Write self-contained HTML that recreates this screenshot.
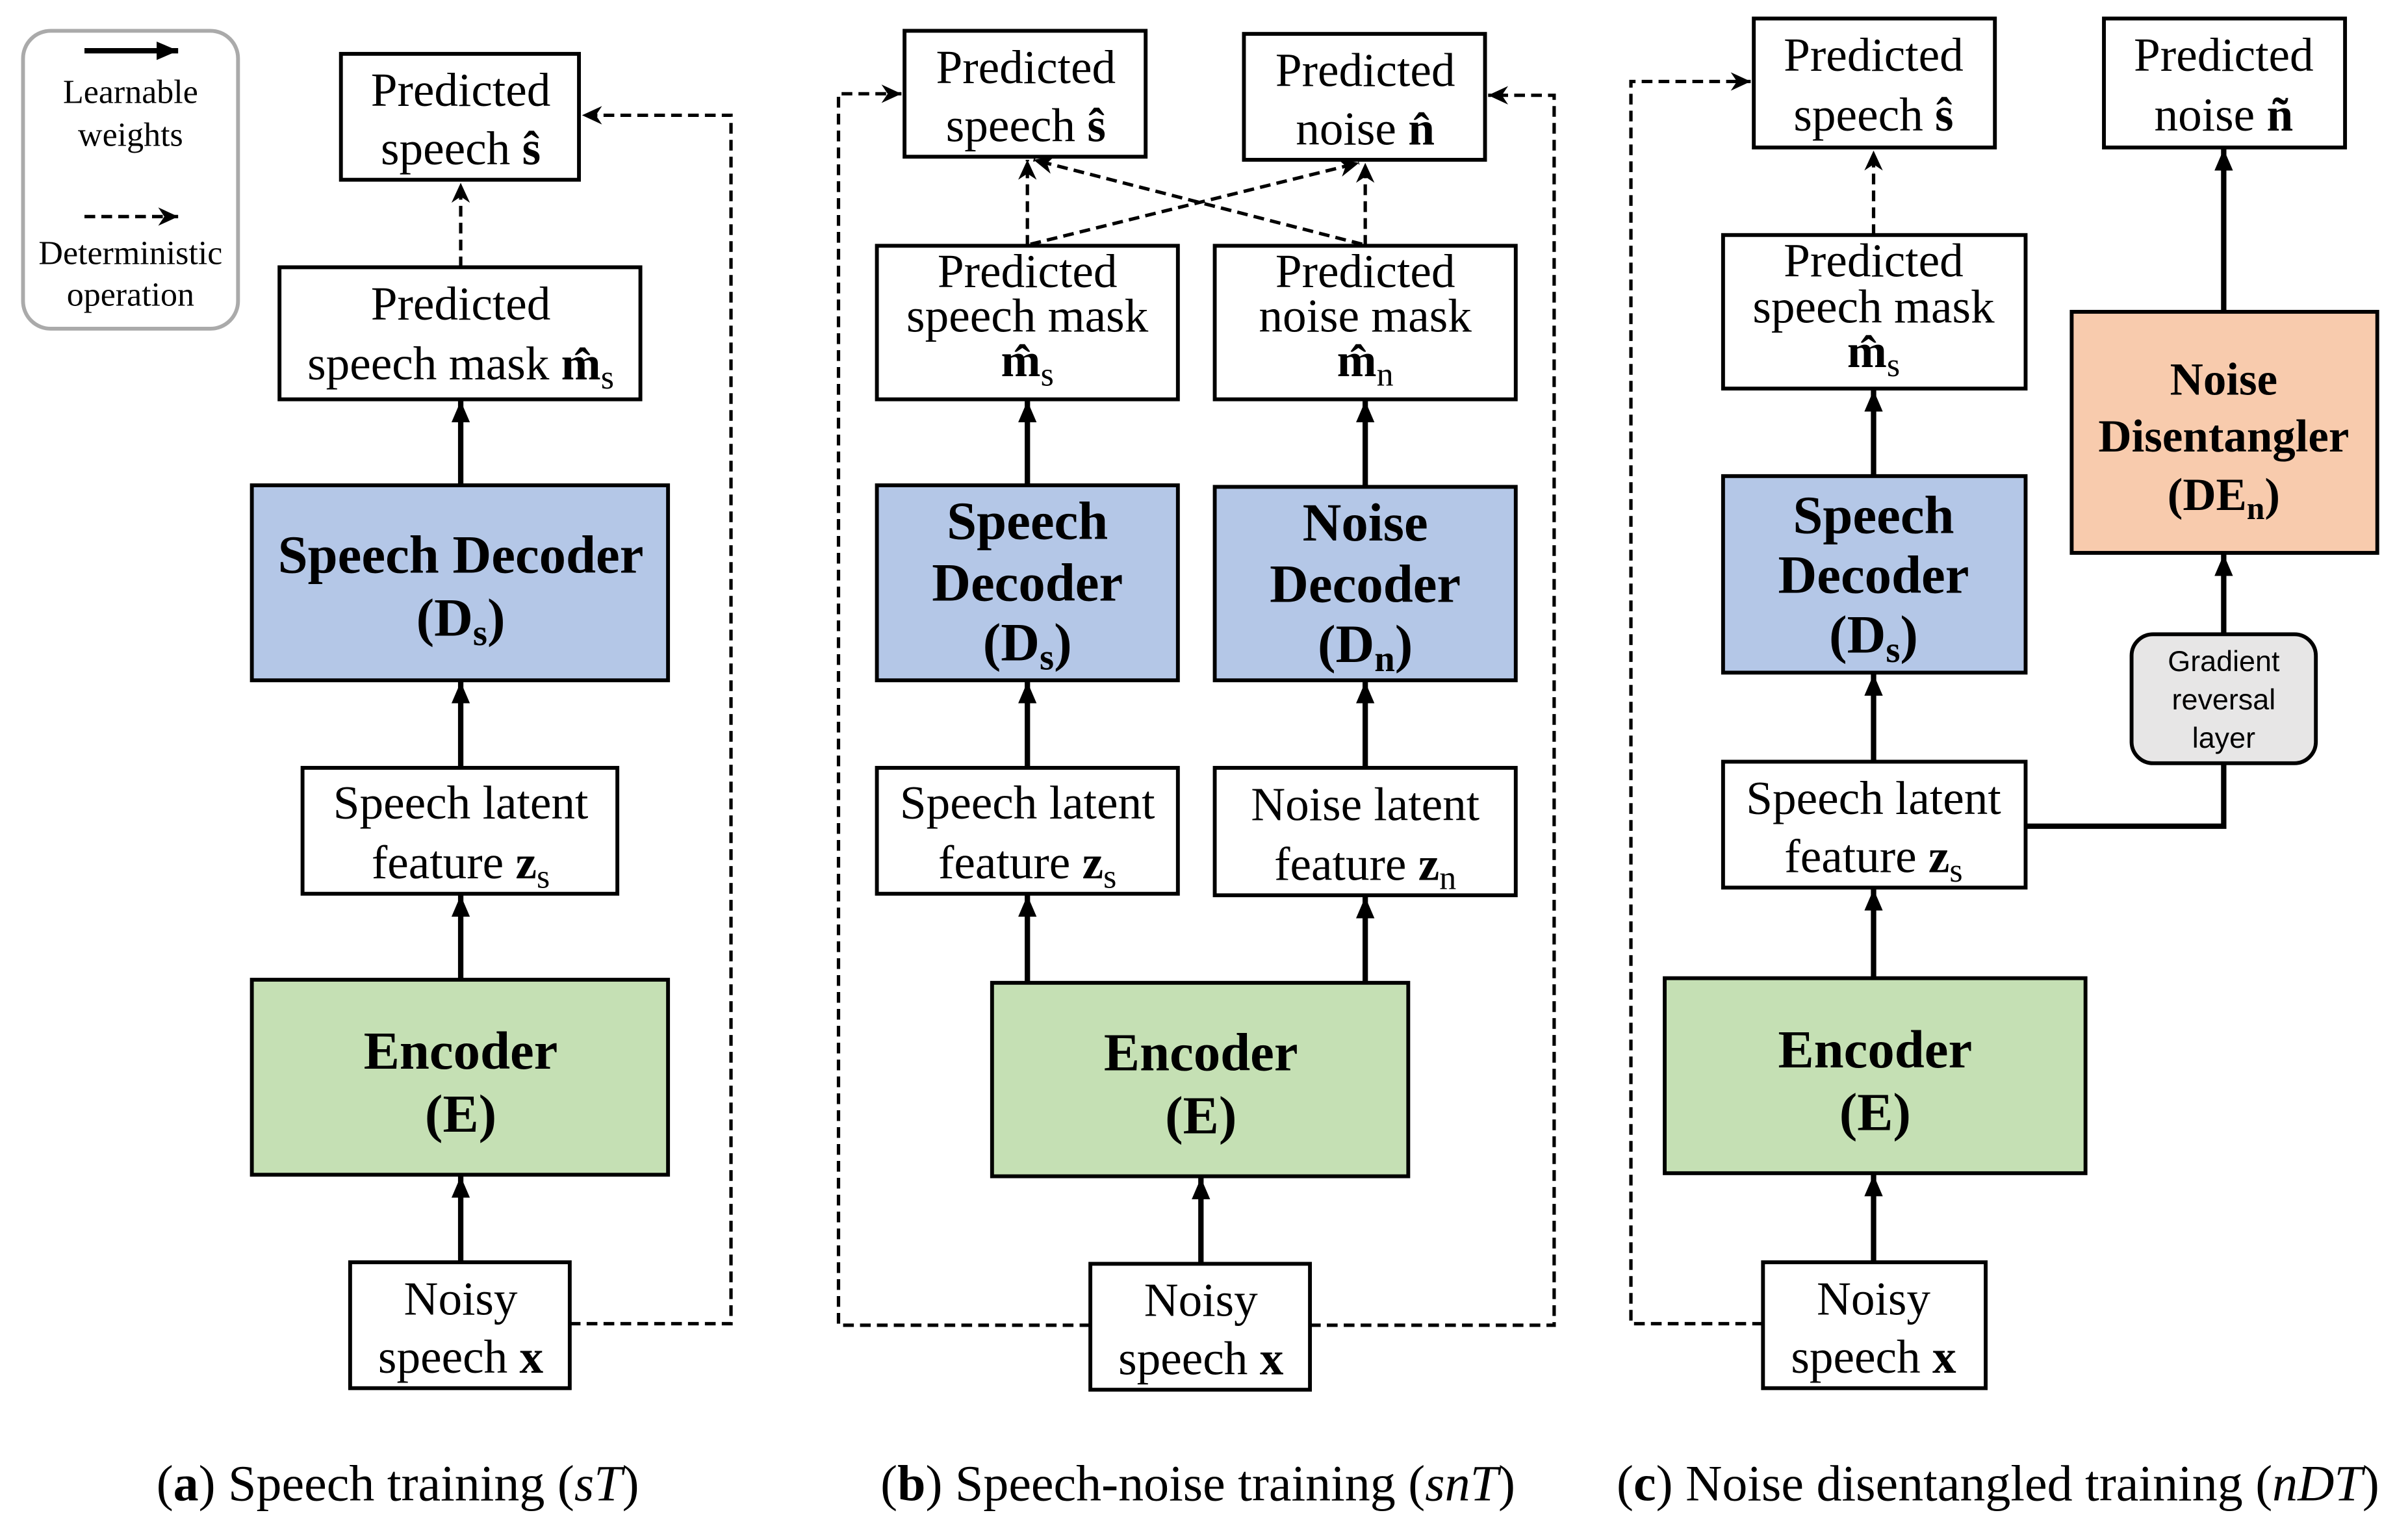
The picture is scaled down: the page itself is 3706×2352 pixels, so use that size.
<!DOCTYPE html>
<html><head><meta charset="utf-8"><style>
html,body{margin:0;padding:0;background:#fff;}
svg{display:block;}
text{font-family:"Liberation Serif",serif;fill:#000;}
.t{font-size:31px;text-anchor:middle;}
.b{font-size:35px;font-weight:bold;text-anchor:middle;}
.s{font-family:"Liberation Sans",sans-serif;font-size:19px;text-anchor:middle;}
.box{fill:#fff;stroke:#000;stroke-width:2.5;}
.sol{stroke:#000;stroke-width:3.5;fill:none;}
.das{stroke:#000;stroke-width:2.2;fill:none;stroke-dasharray:7,4;}
</style></head><body>
<svg width="3706" height="2352" viewBox="0 0 1568 995" xmlns="http://www.w3.org/2000/svg">
<defs>
<marker id="as" markerUnits="userSpaceOnUse" markerWidth="16" markerHeight="16" refX="14" refY="8" orient="auto"><path d="M0,2 L14,8 L0,14 z" fill="#000"/></marker>
<marker id="ad" markerUnits="userSpaceOnUse" markerWidth="14" markerHeight="14" refX="13" refY="7" orient="auto"><path d="M0,1 L13,7 L0,13 L4,7 z" fill="#000"/></marker>
</defs>
<rect x="15" y="20" width="140" height="194" rx="18" fill="#fff" stroke="#aaa" stroke-width="2.5"/>
<line x1="55" y1="33" x2="116" y2="33" class="sol" stroke-width="3" marker-end="url(#as)"/>
<text x="85" y="67" font-size="22" text-anchor="middle">Learnable</text>
<text x="85" y="95" font-size="22" text-anchor="middle">weights</text>
<line x1="55" y1="141" x2="116" y2="141" class="das" marker-end="url(#ad)"/>
<text x="85" y="172" font-size="22" text-anchor="middle">Deterministic</text>
<text x="85" y="199" font-size="22" text-anchor="middle">operation</text>

<rect class="box" x="222" y="35" width="155" height="82"/>
<text class="t" x="300" y="69">Predicted</text><text class="t" x="300" y="107">speech <tspan font-weight="bold">ŝ</tspan></text>
<rect class="box" x="182" y="174" width="235" height="86"/>
<text class="t" x="300" y="208">Predicted</text><text class="t" x="300" y="247">speech mask <tspan font-weight="bold">m̂</tspan><tspan font-size="22" dy="6">s</tspan></text>
<rect class="box" x="164" y="316" width="271" height="127" style="fill:#b4c7e7"/>
<text class="b" x="300" y="373">Speech Decoder</text><text class="b" x="300" y="414">(D<tspan font-size="24" dy="6">s</tspan><tspan dy="-6">)</tspan></text>
<rect class="box" x="197" y="500" width="205" height="82"/>
<text class="t" x="300" y="533">Speech latent</text><text class="t" x="300" y="572">feature <tspan font-weight="bold">z</tspan><tspan font-size="22" dy="6">s</tspan></text>
<rect class="box" x="164" y="638" width="271" height="127" style="fill:#c5e0b4"/>
<text class="b" x="300" y="696">Encoder</text><text class="b" x="300" y="737">(E)</text>
<rect class="box" x="228" y="822" width="143" height="82"/>
<text class="t" x="300" y="856">Noisy</text><text class="t" x="300" y="894">speech <tspan font-weight="bold">x</tspan></text>
<line class="sol" x1="300" y1="822" x2="300" y2="766" marker-end="url(#as)"/>
<line class="sol" x1="300" y1="638" x2="300" y2="583" marker-end="url(#as)"/>
<line class="sol" x1="300" y1="500" x2="300" y2="444" marker-end="url(#as)"/>
<line class="sol" x1="300" y1="316" x2="300" y2="261" marker-end="url(#as)"/>
<line class="das" x1="300" y1="174" x2="300" y2="119" marker-end="url(#ad)"/>
<path class="das" d="M371,862 H476 V75 H379" marker-end="url(#ad)"/>

<rect class="box" x="589" y="20" width="157" height="82"/>
<text class="t" x="668" y="54">Predicted</text><text class="t" x="668" y="92">speech <tspan font-weight="bold">ŝ</tspan></text>
<rect class="box" x="810" y="22" width="157" height="82"/>
<text class="t" x="889" y="56">Predicted</text><text class="t" x="889" y="94">noise <tspan font-weight="bold">n̂</tspan></text>
<rect class="box" x="571" y="160" width="196" height="100"/>
<text class="t" x="669" y="187">Predicted</text><text class="t" x="669" y="216">speech mask</text><text class="t" x="669" y="245"><tspan font-weight="bold">m̂</tspan><tspan font-size="22" dy="6">s</tspan></text>
<rect class="box" x="791" y="160" width="196" height="100"/>
<text class="t" x="889" y="187">Predicted</text><text class="t" x="889" y="216">noise mask</text><text class="t" x="889" y="245"><tspan font-weight="bold">m̂</tspan><tspan font-size="22" dy="6">n</tspan></text>
<rect class="box" x="571" y="316" width="196" height="127" style="fill:#b4c7e7"/>
<text class="b" x="669" y="351">Speech</text><text class="b" x="669" y="391">Decoder</text><text class="b" x="669" y="430">(D<tspan font-size="24" dy="6">s</tspan><tspan dy="-6">)</tspan></text>
<rect class="box" x="791" y="317" width="196" height="126" style="fill:#b4c7e7"/>
<text class="b" x="889" y="352">Noise</text><text class="b" x="889" y="392">Decoder</text><text class="b" x="889" y="431">(D<tspan font-size="24" dy="6">n</tspan><tspan dy="-6">)</tspan></text>
<rect class="box" x="571" y="500" width="196" height="82"/>
<text class="t" x="669" y="533">Speech latent</text><text class="t" x="669" y="572">feature <tspan font-weight="bold">z</tspan><tspan font-size="22" dy="6">s</tspan></text>
<rect class="box" x="791" y="500" width="196" height="83"/>
<text class="t" x="889" y="534">Noise latent</text><text class="t" x="889" y="573">feature <tspan font-weight="bold">z</tspan><tspan font-size="22" dy="6">n</tspan></text>
<rect class="box" x="646" y="640" width="271" height="126" style="fill:#c5e0b4"/>
<text class="b" x="782" y="697">Encoder</text><text class="b" x="782" y="738">(E)</text>
<rect class="box" x="710" y="823" width="143" height="82"/>
<text class="t" x="782" y="857">Noisy</text><text class="t" x="782" y="895">speech <tspan font-weight="bold">x</tspan></text>
<line class="sol" x1="782" y1="823" x2="782" y2="767" marker-end="url(#as)"/>
<line class="sol" x1="669" y1="640" x2="669" y2="583" marker-end="url(#as)"/>
<line class="sol" x1="889" y1="640" x2="889" y2="584" marker-end="url(#as)"/>
<line class="sol" x1="669" y1="500" x2="669" y2="444" marker-end="url(#as)"/>
<line class="sol" x1="889" y1="500" x2="889" y2="444" marker-end="url(#as)"/>
<line class="sol" x1="669" y1="316" x2="669" y2="261" marker-end="url(#as)"/>
<line class="sol" x1="889" y1="317" x2="889" y2="261" marker-end="url(#as)"/>
<line class="das" x1="669" y1="160" x2="669" y2="104" marker-end="url(#ad)"/>
<line class="das" x1="889" y1="160" x2="889" y2="106" marker-end="url(#ad)"/>
<line class="das" x1="671" y1="159" x2="885" y2="106" marker-end="url(#ad)"/>
<line class="das" x1="887" y1="159" x2="673" y2="104" marker-end="url(#ad)"/>
<path class="das" d="M710,863 H546 V61 H587" marker-end="url(#ad)"/>
<path class="das" d="M853,863 H1012 V62 H969" marker-end="url(#ad)"/>

<rect class="box" x="1142" y="12" width="157" height="84"/>
<text class="t" x="1220" y="46">Predicted</text><text class="t" x="1220" y="85">speech <tspan font-weight="bold">ŝ</tspan></text>
<rect class="box" x="1370" y="12" width="157" height="84"/>
<text class="t" x="1448" y="46">Predicted</text><text class="t" x="1448" y="85">noise <tspan font-weight="bold">ñ</tspan></text>
<rect class="box" x="1122" y="153" width="197" height="100"/>
<text class="t" x="1220" y="180">Predicted</text><text class="t" x="1220" y="210">speech mask</text><text class="t" x="1220" y="239"><tspan font-weight="bold">m̂</tspan><tspan font-size="22" dy="6">s</tspan></text>
<rect class="box" x="1349" y="203" width="199" height="157" style="fill:#f8cbad"/>
<text class="b" x="1448" y="257" style="font-size:30px">Noise</text><text class="b" x="1448" y="294" style="font-size:30px">Disentangler</text><text class="b" x="1448" y="332" style="font-size:30px">(DE<tspan font-size="21" dy="6">n</tspan><tspan dy="-6">)</tspan></text>
<rect class="box" x="1122" y="310" width="197" height="128" style="fill:#b4c7e7"/>
<text class="b" x="1220" y="347">Speech</text><text class="b" x="1220" y="386">Decoder</text><text class="b" x="1220" y="425">(D<tspan font-size="24" dy="6">s</tspan><tspan dy="-6">)</tspan></text>
<rect x="1388" y="413" width="120" height="84" rx="14" fill="#e7e6e6" stroke="#000" stroke-width="2.5"/>
<text class="s" x="1448" y="437">Gradient</text><text class="s" x="1448" y="462">reversal</text><text class="s" x="1448" y="487">layer</text>
<rect class="box" x="1122" y="496" width="197" height="82"/>
<text class="t" x="1220" y="530">Speech latent</text><text class="t" x="1220" y="568">feature <tspan font-weight="bold">z</tspan><tspan font-size="22" dy="6">s</tspan></text>
<rect class="box" x="1084" y="637" width="274" height="127" style="fill:#c5e0b4"/>
<text class="b" x="1221" y="695">Encoder</text><text class="b" x="1221" y="736">(E)</text>
<rect class="box" x="1148" y="822" width="145" height="82"/>
<text class="t" x="1220" y="856">Noisy</text><text class="t" x="1220" y="894">speech <tspan font-weight="bold">x</tspan></text>
<line class="sol" x1="1220" y1="822" x2="1220" y2="765" marker-end="url(#as)"/>
<line class="sol" x1="1220" y1="637" x2="1220" y2="579" marker-end="url(#as)"/>
<line class="sol" x1="1220" y1="496" x2="1220" y2="439" marker-end="url(#as)"/>
<line class="sol" x1="1220" y1="310" x2="1220" y2="254" marker-end="url(#as)"/>
<line class="das" x1="1220" y1="153" x2="1220" y2="98" marker-end="url(#ad)"/>
<path class="sol" d="M1319,538 H1448 V497"/>
<line class="sol" x1="1448" y1="413" x2="1448" y2="361" marker-end="url(#as)"/>
<line class="sol" x1="1448" y1="203" x2="1448" y2="97" marker-end="url(#as)"/>
<path class="das" d="M1148,862 H1062 V53 H1140" marker-end="url(#ad)"/>

<text x="259" y="977" font-size="33" text-anchor="middle">(<tspan font-weight="bold">a</tspan>) Speech training (<tspan font-style="italic">sT</tspan>)</text>
<text x="780" y="977" font-size="33" text-anchor="middle">(<tspan font-weight="bold">b</tspan>) Speech-noise training (<tspan font-style="italic">snT</tspan>)</text>
<text x="1301" y="977" font-size="33" text-anchor="middle">(<tspan font-weight="bold">c</tspan>) Noise disentangled training (<tspan font-style="italic">nDT</tspan>)</text>
</svg>
</body></html>
